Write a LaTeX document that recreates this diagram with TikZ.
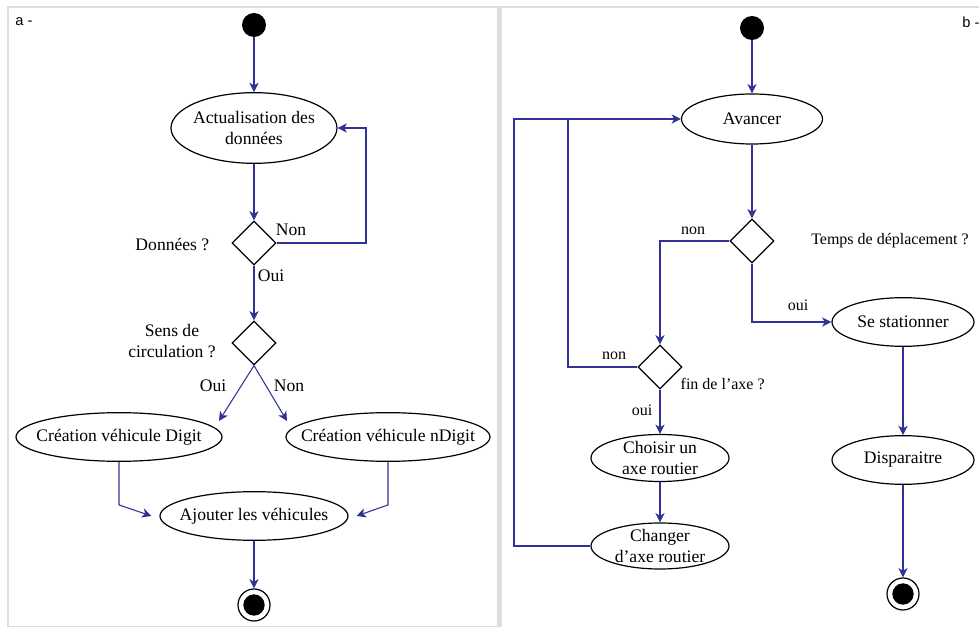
\documentclass[tikz,border=0pt]{standalone}
\usepackage{fontspec}
\setmainfont{Liberation Serif}
\newfontfamily\panelfont{Liberation Sans}
\usepackage{xcolor}
\usetikzlibrary{arrows.meta,shapes.geometric}
\definecolor{linkblue}{RGB}{50,50,150}
\definecolor{framegray}{RGB}{222,222,222}

\begin{document}
\begin{tikzpicture}[x=0.75pt,y=-0.75pt]
	\tikzset{font=\fontsize{13.2}{15.5}\selectfont,
			align=center}
	\tikzset{action/.style = {shape=ellipse,draw,line width=0.9pt,inner xsep=-20pt,inner ysep=-10pt}}
	\tikzset{decision/.style = {shape=diamond,draw,line width=0.9pt,inner sep=0pt,minimum size=33pt,aspect=1}}
	\tikzset{startdot/.style = {shape=circle,fill=black,inner sep=0pt,minimum size=18pt}}
	\tikzset{endring/.style = {shape=circle,draw,line width=0.9pt,inner sep=0pt,minimum size=24pt}}
	\tikzset{enddot/.style = {shape=circle,fill=black,inner sep=0pt,minimum size=16pt}}
	\tikzset{flow/.style = {->,> = {Stealth[length=7pt,width=7pt,inset=2pt]},draw=linkblue,line width=0.8pt}}
	\tikzset{guard/.style = {font=\fontsize{12}{14}\selectfont}}
	\tikzset{panel/.style = {font=\panelfont\fontsize{11}{13}\selectfont}}
	\useasboundingbox (0,0) rectangle (979,627);
	% frames
	\draw[framegray,line width=1pt] (8,627) -- (8,7) -- (979,7);
	\fill[framegray] (497,7) rectangle (502,627);
	\draw[framegray,line width=0.6pt] (8,626) -- (497,626);
	\node[panel] (pa) at (24,22) {a -};
	\node[panel] (pb) at (971,22) {b -};
	% vertices a
	\node[startdot] (s1) at (254,25) {};
	\node[action,minimum width=124.5pt,minimum height=53pt] (act) at (254,128) {Actualisation des\\donn\'ees};
	\node[decision] (d1) at (254,243) {};
	\node[decision] (d2) at (254,343) {};
	\node[action,minimum width=154.5pt,minimum height=36.5pt] (digit) at (119,437) {Cr\'eation v\'ehicule Digit};
	\node[action,minimum width=153pt,minimum height=36.5pt] (ndigit) at (388,437) {Cr\'eation v\'ehicule nDigit};
	\node[action,minimum width=141pt,minimum height=36.5pt] (ajout) at (254,516) {Ajouter les v\'ehicules};
	\node[endring] (f1) at (254,605) {};
	\node[enddot] (f1i) at (f1) {};
	\node[anchor=east] (q1) at (214,245) {Donn\'ees ?};
	\node (q2) at (172,341) {Sens de\\circulation ?};
	\coordinate (digitin) at (219,421);
	\coordinate (ndigitin) at (287,421);
	\coordinate (loopa) at (366,243);
	%edges a
	\draw[flow] (s1) -- (act);
	\draw[flow] (act) -- (d1);
	\draw[flow] (d1.east) -- (loopa) |- (act.east);
	\node (nona) at (291,230) {Non};
	\draw[flow] (d1) -- (d2);
	\node (ouia) at (271,276) {Oui};
	\draw[flow] (d2.south) -- (digitin);
	\draw[flow] (d2.south) -- (ndigitin);
	\node (ouib) at (213,386) {Oui};
	\node (nonb) at (289,386) {Non};
	\draw[flow] (digit.south) -- ++(0,43) -- ([xshift=-6pt]ajout.west);
	\draw[flow] (ndigit.south) -- ++(0,43) -- ([xshift=6pt]ajout.east);
	\draw[flow] (ajout) -- (f1);
	% vertices b
	\node[startdot] (s2) at (752,28) {};
	\node[action,minimum width=105.75pt,minimum height=37.5pt] (avancer) at (752,119) {Avancer};
	\node[decision] (d3) at (752,241) {};
	\node[decision] (d4) at (660,367) {};
	\node[action,minimum width=106.5pt,minimum height=36.5pt] (station) at (903,322) {Se stationner};
	\node[action,minimum width=106.5pt,minimum height=36.5pt] (disp) at (903,460) {Disparaitre};
	\node[action,minimum width=103.5pt,minimum height=35.25pt] (choisir) at (660,458) {Choisir un\\axe routier};
	\node[action,minimum width=103.5pt,minimum height=34.5pt] (changer) at (660,546) {Changer\\d’axe routier};
	\node[endring] (f2) at (903,594) {};
	\node[enddot] (f2i) at (f2) {};
	\node[guard] (q3) at (890,241) {Temps de d\'eplacement ?};
	\node[guard,anchor=west] (q4) at (676,384) {fin de l’axe ?};
	\coordinate (inner) at (568,119);
	\coordinate (outer) at (514,119);
	%edges b
	\draw[flow] (s2) -- (avancer);
	\draw[flow] (avancer) -- (d3);
	\draw[flow] (d3.west) -| (d4.north);
	\node[guard] (nonc) at (693,231) {non};
	\draw[flow] (d3.south) |- (station.west);
	\node[guard] (ouic) at (798,305) {oui};
	\draw[flow] (station) -- (disp);
	\draw[flow] (disp) -- (f2);
	\draw[linkblue,line width=0.8pt] (d4.west) -| (inner);
	\node[guard] (nond) at (614,356) {non};
	\draw[flow] (d4) -- (choisir);
	\node[guard] (ouid) at (642,410) {oui};
	\draw[flow] (choisir) -- (changer);
	\draw[flow] (changer.west) -| (outer) -- (avancer.west);
\end{tikzpicture}
\end{document}
